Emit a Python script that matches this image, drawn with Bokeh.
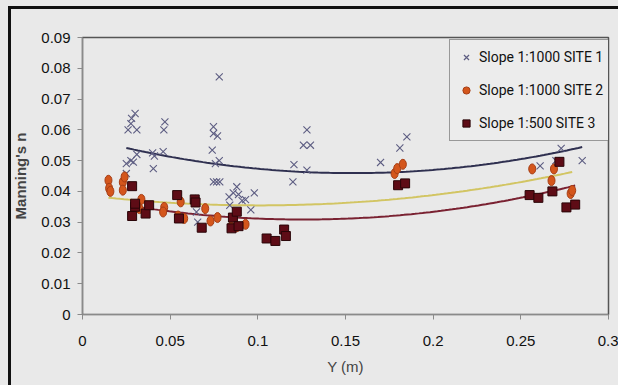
import numpy as np
from bokeh.plotting import figure
from bokeh.models import FixedTicker, Legend, LegendItem, Range1d
from bokeh.embed import file_html
from bokeh.resources import INLINE

# ---- data ----
s1_x = [0.025, 0.0276, 0.025, 0.026, 0.0276, 0.028, 0.030, 0.031, 0.031, 0.029,
        0.040, 0.0404, 0.041, 0.0464, 0.047, 0.046, 0.0747, 0.0747, 0.077, 0.074,
        0.0758, 0.078, 0.078, 0.0747, 0.0765, 0.0783, 0.0836, 0.086, 0.088, 0.089,
        0.091, 0.093, 0.096, 0.098, 0.084, 0.0657, 0.065, 0.1206, 0.120, 0.126,
        0.130, 0.128, 0.128, 0.170, 0.181, 0.185, 0.261, 0.270, 0.273, 0.285]
s1_y = [0.049, 0.050, 0.0458, 0.060, 0.062, 0.0637, 0.0653, 0.060, 0.052, 0.0495,
        0.0525, 0.0474, 0.0515, 0.060, 0.0626, 0.0529, 0.061, 0.0588, 0.058, 0.0534,
        0.049, 0.050, 0.0772, 0.0431, 0.0431, 0.0431, 0.0382, 0.0395, 0.0415, 0.039,
        0.037, 0.0373, 0.034, 0.0395, 0.0355, 0.030, 0.0333, 0.0487, 0.0431, 0.055,
        0.055, 0.060, 0.0469, 0.0494, 0.0541, 0.0577, 0.0483, 0.050, 0.054, 0.050]

s2_x = [0.0148, 0.0152, 0.0159, 0.023, 0.023, 0.024, 0.0336, 0.0325, 0.031, 0.0466,
        0.046, 0.0545, 0.056, 0.058, 0.0646, 0.070, 0.073, 0.077, 0.0848, 0.088,
        0.093, 0.178, 0.1795, 0.1827, 0.2565, 0.2675, 0.2689, 0.2784, 0.2793]
s2_y = [0.0436, 0.041, 0.040, 0.043, 0.0404, 0.0447, 0.0374, 0.0344, 0.0355, 0.0348,
        0.0333, 0.032, 0.0366, 0.0312, 0.0371, 0.0344, 0.0304, 0.0315, 0.0285, 0.0285,
        0.0293, 0.0458, 0.0474, 0.0488, 0.0473, 0.0435, 0.0473, 0.0393, 0.0403]

s3_x = [0.0283, 0.0283, 0.030, 0.030, 0.036, 0.038, 0.054, 0.055, 0.064, 0.0645,
        0.068, 0.085, 0.0858, 0.088, 0.089, 0.105, 0.110, 0.115, 0.116, 0.180,
        0.184, 0.255, 0.260, 0.268, 0.272, 0.276, 0.281]
s3_y = [0.0417, 0.032, 0.035, 0.036, 0.0328, 0.0355, 0.0388, 0.0312, 0.0374, 0.0364,
        0.0282, 0.028, 0.0315, 0.0334, 0.0287, 0.0247, 0.0239, 0.0276, 0.0255, 0.042,
        0.0426, 0.0388, 0.0379, 0.040, 0.0496, 0.0348, 0.0357]

series_names = ["Slope 1:1000 SITE 1", "Slope 1:1000 SITE 2", "Slope 1:500 SITE 3"]
x_ticks = [0, 0.05, 0.1, 0.15, 0.2, 0.25, 0.3]
x_tick_labels = ["0", "0.05", "0.1", "0.15", "0.2", "0.25", "0.3"]
y_ticks = [0, 0.01, 0.02, 0.03, 0.04, 0.05, 0.06, 0.07, 0.08, 0.09]
y_tick_labels = ["0", "0.01", "0.02", "0.03", "0.04", "0.05", "0.06", "0.07", "0.08", "0.09"]

BG = "#e9e9e9"
TICKFONT = "Liberation Sans"
LEGFONT = "Roboto"

# the picture's black top/left edge is drawn as a CSS background behind a transparent border
frame_styles = {
    "background-color": BG,
    "background-image": "linear-gradient(#111111, #111111), linear-gradient(#111111, #111111)",
    "background-size": "100% 3px, 3px 100%",
    "background-position": "8px 6px, 8px 6px",
    "background-repeat": "no-repeat",
}

p = figure(width=618, height=385, output_backend="svg", toolbar_location=None,
           x_range=Range1d(0, 0.3), y_range=Range1d(0, 0.09),
           min_border_left=82, min_border_right=10, min_border_top=37, min_border_bottom=71,
           background_fill_color=BG, border_fill_color=BG, border_fill_alpha=0,
           styles=frame_styles)
p.grid.visible = False
p.outline_line_color = "#555555"
p.outline_line_width = 1.5

for ax in (p.xaxis[0], p.yaxis[0]):
    ax.axis_line_color = "#8a8a8a"
    ax.axis_line_width = 1.2
    ax.major_tick_line_color = "#8a8a8a"
    ax.minor_tick_line_color = None
    ax.major_tick_in = 0
    ax.major_tick_out = 5
    ax.major_label_text_font = TICKFONT
    ax.major_label_text_font_size = "15px"
    ax.major_label_text_color = "#111111"

p.xaxis.ticker = FixedTicker(ticks=x_ticks)
p.xaxis.major_label_overrides = dict(zip(x_ticks, x_tick_labels))
p.yaxis.ticker = FixedTicker(ticks=y_ticks)
p.yaxis.major_label_overrides = dict(zip(y_ticks, y_tick_labels))
p.xaxis.major_label_standoff = 16
p.yaxis.major_label_standoff = 7

p.xaxis.axis_label = "Y (m)"
p.xaxis.axis_label_text_font = TICKFONT
p.xaxis.axis_label_text_font_style = "normal"
p.xaxis.axis_label_text_font_size = "15px"
p.xaxis.axis_label_standoff = 9
p.yaxis.axis_label = "Manning's n"
p.yaxis.axis_label_text_font = "Liberation Sans"
p.yaxis.axis_label_text_font_style = "bold"
p.yaxis.axis_label_text_font_size = "15px"
p.yaxis.axis_label_standoff = 9

# trend lines: quadratic fits of each series over its own range
line_colors = ["#2f3050", "#d2c563", "#7a2232"]
for xs, ys, c in ((s1_x, s1_y, line_colors[0]), (s2_x, s2_y, line_colors[1]), (s3_x, s3_y, line_colors[2])):
    coef = np.polyfit(xs, ys, 2)
    gx = np.linspace(min(xs), max(xs), 120)
    p.line(gx, np.polyval(coef, gx), line_color=c, line_width=2)

# markers
r1 = p.scatter(s1_x, s1_y, marker="x", size=10, line_color="#5d5d82", line_width=1.1)
r2 = p.ellipse(s2_x, s2_y, width=7, height=10, width_units="screen", height_units="screen",
               fill_color="#d4561c", line_color="#a53e16", line_width=1)
r3 = p.scatter(s3_x, s3_y, marker="square", size=9, fill_color="#5e0c16",
               line_color="#2a0508", line_width=1)

# legend proxies (small glyphs, placed outside the visible range)
l1 = p.scatter([-1], [-1], marker="x", size=8, line_color="#5d5d82", line_width=1.2)
l2 = p.scatter([-1], [-1], marker="circle", size=7, fill_color="#d4561c", line_color="#a53e16")
l3 = p.scatter([-1], [-1], marker="square", size=8, fill_color="#5e0c16", line_color="#2a0508")

legend = Legend(items=[LegendItem(label=series_names[0], renderers=[l1]),
                       LegendItem(label=series_names[1], renderers=[l2]),
                       LegendItem(label=series_names[2], renderers=[l3])],
                location=(367, 173), orientation="vertical",
                padding=7, spacing=13, label_height=20, glyph_height=20, glyph_width=18,
                label_standoff=4, label_width=117, margin=0,
                label_text_font=LEGFONT, label_text_font_size="14px",
                label_text_color="#111111",
                border_line_color="#444444", border_line_width=1.5,
                background_fill_color="#ececec", background_fill_alpha=1.0)
p.add_layout(legend, "center")

open("out.html", "w").write(file_html(p, INLINE))
